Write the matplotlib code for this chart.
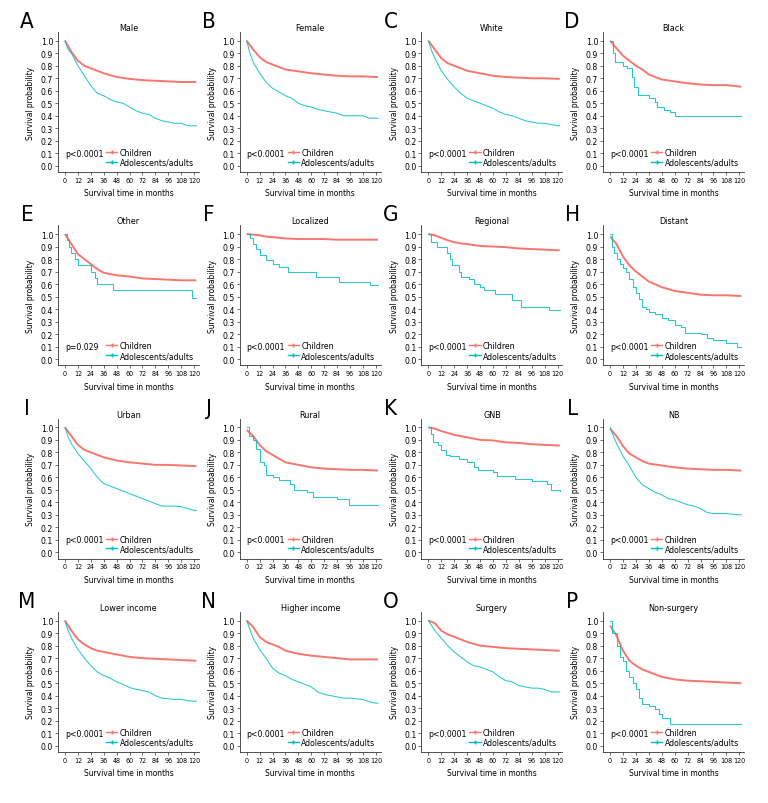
import numpy as np
import matplotlib
matplotlib.use("Agg")
from matplotlib import pyplot as plt
from matplotlib.lines import Line2D

plt.rcParams['font.family'] = ['DejaVu Sans']
plt.rcParams['font.stretch'] = 'condensed'

RED = '#F8766D'
CYAN = '#00BFC4'

letters = list("ABCDEFGHIJKLMNOP")
titles = ["Male", "Female", "White", "Black",
          "Other", "Localized", "Regional", "Distant",
          "Urban", "Rural", "GNB", "NB",
          "Lower income", "Higher income", "Surgery", "Non-surgery"]
pvals = ["p<0.0001", "p<0.0001", "p<0.0001", "p<0.0001",
         "p=0.029", "p<0.0001", "p<0.0001", "p<0.0001",
         "p<0.0001", "p<0.0001", "p<0.0001", "p<0.0001",
         "p<0.0001", "p<0.0001", "p<0.0001", "p<0.0001"]

# children curves, read at fixed months
t_child = [0, 6, 12, 18, 24, 30, 36, 48, 60, 72, 84, 96, 108, 120, 122]
s_male_c = [1.0, 0.91, 0.84, 0.80, 0.78, 0.76, 0.74, 0.71, 0.695, 0.685, 0.68, 0.675, 0.67, 0.67, 0.67]
s_female_c = [1.0, 0.93, 0.87, 0.83, 0.81, 0.79, 0.77, 0.755, 0.74, 0.73, 0.72, 0.715, 0.715, 0.71, 0.71]
s_white_c = [1.0, 0.93, 0.86, 0.82, 0.80, 0.78, 0.76, 0.74, 0.72, 0.71, 0.705, 0.70, 0.70, 0.695, 0.695]
s_black_c = [1.0, 0.94, 0.88, 0.84, 0.80, 0.77, 0.73, 0.69, 0.675, 0.66, 0.65, 0.645, 0.645, 0.635, 0.63]
s_other_c = [1.0, 0.92, 0.84, 0.80, 0.76, 0.72, 0.69, 0.67, 0.66, 0.645, 0.64, 0.635, 0.63, 0.63, 0.63]
s_local_c = [1.0, 0.995, 0.99, 0.98, 0.975, 0.97, 0.965, 0.96, 0.96, 0.96, 0.955, 0.955, 0.955, 0.955, 0.955]
s_region_c = [1.0, 0.99, 0.97, 0.95, 0.935, 0.925, 0.92, 0.905, 0.90, 0.895, 0.885, 0.88, 0.875, 0.87, 0.87]
s_distant_c = [0.98, 0.92, 0.82, 0.75, 0.70, 0.66, 0.62, 0.575, 0.545, 0.53, 0.515, 0.51, 0.51, 0.505, 0.505]
s_urban_c = [1.0, 0.93, 0.86, 0.82, 0.80, 0.78, 0.76, 0.735, 0.72, 0.71, 0.70, 0.70, 0.695, 0.69, 0.69]
s_rural_c = [0.98, 0.93, 0.86, 0.81, 0.78, 0.75, 0.72, 0.70, 0.68, 0.67, 0.665, 0.66, 0.66, 0.655, 0.655]
s_gnb_c = [1.0, 0.99, 0.97, 0.955, 0.94, 0.93, 0.92, 0.90, 0.895, 0.88, 0.875, 0.865, 0.86, 0.855, 0.855]
s_nb_c = [0.99, 0.93, 0.85, 0.79, 0.76, 0.73, 0.71, 0.695, 0.68, 0.67, 0.665, 0.66, 0.66, 0.655, 0.655]
s_lower_c = [1.0, 0.92, 0.85, 0.81, 0.78, 0.76, 0.75, 0.73, 0.71, 0.70, 0.695, 0.69, 0.685, 0.68, 0.68]
s_higher_c = [1.0, 0.95, 0.87, 0.83, 0.81, 0.79, 0.76, 0.735, 0.72, 0.71, 0.70, 0.69, 0.69, 0.69, 0.69]
s_surg_c = [1.0, 0.98, 0.92, 0.89, 0.87, 0.85, 0.83, 0.80, 0.79, 0.78, 0.775, 0.77, 0.765, 0.76, 0.76]
s_nonsurg_c = [0.96, 0.88, 0.76, 0.68, 0.64, 0.61, 0.59, 0.55, 0.53, 0.52, 0.515, 0.51, 0.505, 0.50, 0.50]

# adolescents/adults curves (time, survival)
t_reg6 = [0, 3, 6, 12, 18, 24, 30, 36, 42, 48, 54, 60, 66, 72, 78, 84, 90, 96, 102, 108, 114, 120, 122]
s_male_a = [1.0, 0.93, 0.90, 0.80, 0.72, 0.64, 0.58, 0.56, 0.53, 0.51, 0.50, 0.47, 0.44, 0.42, 0.41, 0.38, 0.36, 0.35, 0.34, 0.34, 0.32, 0.32, 0.32]
s_female_a = [1.0, 0.90, 0.83, 0.74, 0.67, 0.62, 0.59, 0.56, 0.54, 0.50, 0.48, 0.47, 0.45, 0.44, 0.43, 0.42, 0.40, 0.40, 0.40, 0.40, 0.38, 0.38, 0.38]
s_white_a = [1.0, 0.92, 0.86, 0.76, 0.69, 0.63, 0.58, 0.54, 0.52, 0.50, 0.48, 0.46, 0.43, 0.41, 0.40, 0.38, 0.36, 0.35, 0.34, 0.34, 0.33, 0.32, 0.32]
s_urban_a = [1.0, 0.92, 0.87, 0.79, 0.73, 0.67, 0.60, 0.55, 0.53, 0.51, 0.49, 0.47, 0.45, 0.43, 0.41, 0.39, 0.37, 0.37, 0.37, 0.365, 0.35, 0.335, 0.335]
s_nb_a = [1.0, 0.93, 0.87, 0.77, 0.69, 0.60, 0.54, 0.51, 0.48, 0.46, 0.43, 0.42, 0.40, 0.38, 0.37, 0.35, 0.32, 0.31, 0.31, 0.31, 0.305, 0.30, 0.30]
s_lower_a = [1.0, 0.92, 0.86, 0.77, 0.70, 0.64, 0.59, 0.56, 0.54, 0.51, 0.49, 0.465, 0.45, 0.44, 0.43, 0.40, 0.38, 0.375, 0.37, 0.37, 0.36, 0.355, 0.355]
s_higher_a = [1.0, 0.93, 0.86, 0.77, 0.70, 0.62, 0.58, 0.56, 0.53, 0.51, 0.49, 0.47, 0.43, 0.41, 0.40, 0.39, 0.38, 0.38, 0.375, 0.37, 0.35, 0.34, 0.34]
s_surg_a = [1.0, 0.96, 0.92, 0.86, 0.80, 0.75, 0.71, 0.67, 0.64, 0.63, 0.61, 0.59, 0.55, 0.52, 0.51, 0.48, 0.47, 0.46, 0.46, 0.45, 0.43, 0.43, 0.43]

t_black_a = [0, 3, 5, 12, 16, 20, 22, 26, 36, 42, 44, 50, 56, 60, 122]
s_black_a = [1.0, 0.90, 0.83, 0.80, 0.78, 0.71, 0.63, 0.57, 0.54, 0.51, 0.47, 0.45, 0.43, 0.40, 0.40]
t_other_a = [0, 2, 4, 6, 9, 12, 24, 28, 30, 45, 118, 122]
s_other_a = [1.0, 0.95, 0.90, 0.85, 0.80, 0.75, 0.70, 0.65, 0.60, 0.55, 0.49, 0.49]
t_local_a = [0, 3, 6, 9, 12, 18, 24, 30, 38, 64, 86, 115, 122]
s_local_a = [1.0, 0.97, 0.92, 0.88, 0.83, 0.79, 0.76, 0.74, 0.70, 0.66, 0.62, 0.595, 0.59]
t_region_a = [0, 2, 8, 17, 20, 22, 28, 30, 38, 42, 48, 52, 62, 78, 86, 112, 122]
s_region_a = [1.0, 0.94, 0.90, 0.85, 0.80, 0.75, 0.70, 0.66, 0.64, 0.60, 0.58, 0.55, 0.52, 0.47, 0.42, 0.39, 0.39]
t_distant_a = [0, 2, 4, 6, 9, 12, 15, 18, 21, 24, 27, 30, 33, 36, 42, 48, 54, 60, 66, 70, 84, 90, 96, 108, 118, 122]
s_distant_a = [1.0, 0.90, 0.85, 0.80, 0.76, 0.73, 0.70, 0.64, 0.58, 0.53, 0.48, 0.42, 0.40, 0.38, 0.36, 0.33, 0.31, 0.27, 0.26, 0.21, 0.20, 0.17, 0.15, 0.13, 0.10, 0.10]
t_rural_a = [0, 2, 6, 9, 12, 16, 18, 24, 30, 40, 44, 56, 62, 84, 95, 122]
s_rural_a = [1.0, 0.93, 0.90, 0.83, 0.72, 0.70, 0.62, 0.60, 0.58, 0.55, 0.50, 0.48, 0.44, 0.43, 0.38, 0.38]
t_gnb_a = [0, 2, 4, 9, 12, 16, 20, 28, 36, 42, 46, 60, 64, 80, 96, 110, 114, 122]
s_gnb_a = [1.0, 0.95, 0.88, 0.86, 0.82, 0.78, 0.77, 0.75, 0.72, 0.68, 0.66, 0.64, 0.61, 0.59, 0.57, 0.55, 0.50, 0.49]
t_nonsurg_a = [0, 2, 6, 9, 12, 15, 18, 21, 24, 27, 30, 36, 42, 45, 48, 56, 122]
s_nonsurg_a = [1.0, 0.90, 0.80, 0.71, 0.68, 0.60, 0.55, 0.50, 0.45, 0.38, 0.33, 0.32, 0.29, 0.25, 0.22, 0.17, 0.17]

children = [s_male_c, s_female_c, s_white_c, s_black_c,
            s_other_c, s_local_c, s_region_c, s_distant_c,
            s_urban_c, s_rural_c, s_gnb_c, s_nb_c,
            s_lower_c, s_higher_c, s_surg_c, s_nonsurg_c]
adults = [(t_reg6, s_male_a), (t_reg6, s_female_a), (t_reg6, s_white_a), (t_black_a, s_black_a),
          (t_other_a, s_other_a), (t_local_a, s_local_a), (t_region_a, s_region_a), (t_distant_a, s_distant_a),
          (t_reg6, s_urban_a), (t_rural_a, s_rural_a), (t_gnb_a, s_gnb_a), (t_reg6, s_nb_a),
          (t_reg6, s_lower_a), (t_reg6, s_higher_a), (t_reg6, s_surg_a), (t_nonsurg_a, s_nonsurg_a)]

W, H = 768, 804
fig = plt.figure(figsize=(W / 100, H / 100), dpi=100)

ax_w, ax_h = 141, 140
for i in range(16):
    r, c = divmod(i, 4)
    left = 58 + c * 181.7
    top = 33 + r * 193.3
    ax = fig.add_axes([left / W, 1 - (top + ax_h) / H, ax_w / W, ax_h / H])

    ax.plot(t_child, children[i], color=RED, lw=1.4, solid_capstyle='butt')
    ta, sa = adults[i]
    # dense curves (many small steps) read on a 6-month grid -> plain line
    ds = 'default' if ta is t_reg6 else 'steps-post'
    ax.plot(ta, sa, color=CYAN, lw=0.75, alpha=0.85, drawstyle=ds)

    ax.set_xlim(-6.5, 124.5)
    ax.set_ylim(-0.05, 1.07)
    ax.set_xticks(np.arange(0, 121, 12))
    ax.set_yticks(np.arange(0, 1.01, 0.1))
    ax.set_yticklabels(["%.1f" % v for v in np.arange(0, 1.01, 0.1)])
    ax.tick_params(length=2, width=0.5, pad=1.5, color='#333333')
    ax.tick_params(axis='x', labelsize=5.1)
    ax.tick_params(axis='y', labelsize=6.2)
    for s in ['top', 'right']:
        ax.spines[s].set_visible(False)
    for s in ['left', 'bottom']:
        ax.spines[s].set_linewidth(0.6)
        ax.spines[s].set_color('#333333')

    ax.set_title(titles[i], fontsize=6.5, pad=1)
    ax.set_xlabel("Survival time in months", fontsize=6, labelpad=4)
    ax.set_ylabel("Survival probability", fontsize=6, labelpad=4)
    ax.text(0, 0.1, pvals[i], fontsize=6.2, va='center', ha='left')

    handles = [Line2D([], [], color=RED, marker='+', ms=3, lw=1),
               Line2D([], [], color=CYAN, marker='+', ms=3, lw=1)]
    ax.legend(handles, ["Children", "Adolescents/adults"], loc='lower right',
              bbox_to_anchor=(1.0, 0.0), fontsize=6.2, handlelength=1.3,
              handletextpad=0.3, labelspacing=0.1, frameon=False, borderpad=0.1)

    fig.text((left - 31) / W, 1 - (top - 11) / H, letters[i], fontsize=16,
             ha='center', va='center')

fig.savefig("out.png", dpi=100, facecolor='white')
